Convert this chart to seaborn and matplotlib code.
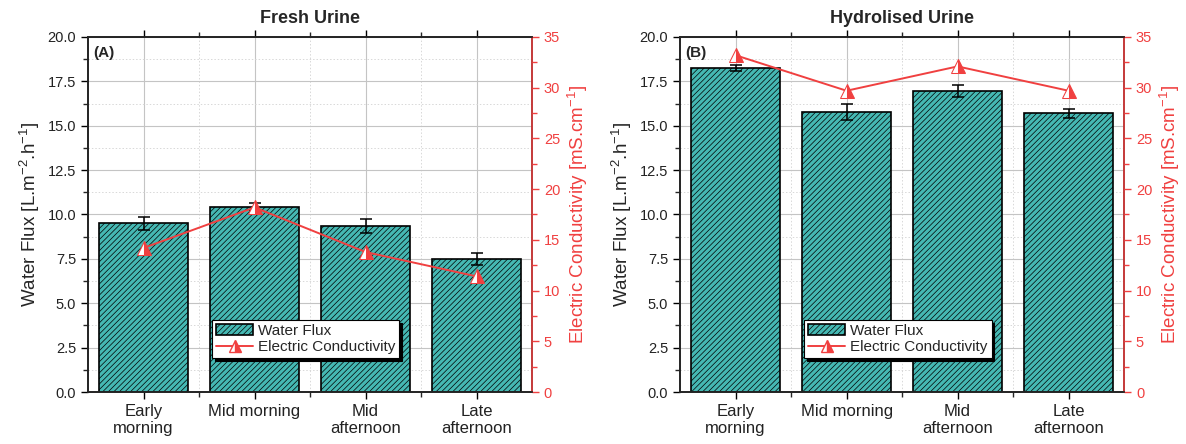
import numpy as np
import matplotlib
matplotlib.use("Agg")
import matplotlib.pyplot as plt
import seaborn as sns
import pandas as pd
from matplotlib.patches import Patch
from matplotlib.lines import Line2D
from matplotlib.ticker import MultipleLocator, FixedLocator

categories = ["Early\nmorning", "Mid morning", "Mid\nafternoon", "Late\nafternoon"]

fresh_flux = [9.5, 10.45, 9.35, 7.5]
fresh_flux_err = [0.35, 0.2, 0.4, 0.35]
fresh_ec = [14.2, 18.2, 13.8, 11.4]

hydro_flux = [18.25, 15.75, 16.95, 15.7]
hydro_flux_err = [0.15, 0.45, 0.35, 0.25]
hydro_ec = [33.2, 29.7, 32.1, 29.7]

titles = ["Fresh Urine", "Hydrolised Urine"]
panel_labels = ["(A)", "(B)"]

sns.set_theme(style="white")
plt.rcParams["font.family"] = ["Liberation Sans", "DejaVu Sans"]
plt.rcParams["mathtext.fontset"] = "custom"
plt.rcParams["mathtext.rm"] = "Liberation Sans"
plt.rcParams["mathtext.it"] = "Liberation Sans:italic"
plt.rcParams["mathtext.bf"] = "Liberation Sans:bold"
plt.rcParams["hatch.linewidth"] = 0.5
plt.rcParams["hatch.color"] = "#123535"

RED = "#f04040"
TEAL = "#45b8b3"
HATCH = "//////"

fig = plt.figure(figsize=(11.86, 4.44), dpi=100)
axes = [fig.add_axes([0.0742, 0.1171, 0.3744, 0.7996]),
        fig.add_axes([0.5734, 0.1171, 0.3744, 0.7996])]

datasets = [(fresh_flux, fresh_flux_err, fresh_ec), (hydro_flux, hydro_flux_err, hydro_ec)]

for ax, (flux, err, ec), title, plab in zip(axes, datasets, titles, panel_labels):
    df = pd.DataFrame({"cat": categories, "flux": flux})
    sns.barplot(data=df, x="cat", y="flux", ax=ax, color=TEAL, width=0.8,
                edgecolor="black", linewidth=1.2, hatch=HATCH, saturation=1, zorder=3)
    x = np.arange(len(categories))
    ax.errorbar(x, flux, yerr=err, fmt="none", ecolor="black", elinewidth=1.1,
                capsize=4, capthick=1.1, zorder=4)
    ax.set_xlim(-0.5, 3.5)
    ax.set_ylim(0, 20)
    ax.set_yticks(np.arange(0, 20.01, 2.5))
    ax.set_yticklabels([f"{v:.1f}" for v in np.arange(0, 20.01, 2.5)])
    ax.yaxis.set_minor_locator(MultipleLocator(1.25))
    ax.xaxis.set_minor_locator(FixedLocator([0.5, 1.5, 2.5]))
    ax.grid(True, which="major", color="#c4c4c4", lw=0.8, zorder=0)
    ax.grid(True, which="minor", color="#d8d8d8", lw=0.7, ls=(0, (1.5, 2)), zorder=0)
    ax.set_axisbelow(True)
    ax.tick_params(axis="both", which="major", direction="out", length=5, width=1,
                   labelsize=10.5, colors="black", labelcolor="#222222")
    ax.tick_params(axis="both", which="minor", direction="out", length=3.5, width=1)
    ax.tick_params(axis="x", which="both", top=True, bottom=True)
    ax.tick_params(axis="y", which="both", left=True)
    ax.tick_params(axis="x", labelsize=12)
    ax.set_xlabel("")
    ax.set_ylabel("Water Flux [L.m$^{-2}$.h$^{-1}$]", fontsize=13.5)
    for s in ax.spines.values():
        s.set_color("black")
        s.set_linewidth(1.1)
    ax.set_title(title, fontsize=13, fontweight="bold", pad=10)
    ax.text(0.012, 0.975, plab, transform=ax.transAxes, fontsize=11,
            fontweight="bold", va="top", ha="left", zorder=6)

    ax2 = ax.twinx()
    sns.lineplot(x=x, y=ec, ax=ax2, color=RED, lw=1.4, marker="^", markersize=10,
                 markerfacecolor=RED, markeredgecolor=RED, zorder=5)
    for ln in ax2.lines:
        ln.set_fillstyle("right")
        ln.set_markerfacecoloralt("white")
    ax2.set_ylim(0, 35)
    ax2.yaxis.set_major_locator(MultipleLocator(5))
    ax2.yaxis.set_minor_locator(MultipleLocator(2.5))
    ax2.tick_params(axis="y", which="major", direction="out", length=5, width=1,
                    colors=RED, labelsize=10.5)
    ax2.tick_params(axis="y", which="minor", direction="out", length=3.5, width=1, colors=RED)
    ax2.set_ylabel("Electric Conductivity [mS.cm$^{-1}$]", fontsize=13.5, color=RED)
    ax2.spines["right"].set_color(RED)
    ax2.spines["right"].set_linewidth(1.1)
    ax2.grid(False)

    handles = [Patch(facecolor=TEAL, edgecolor="black", hatch=HATCH, lw=1.2),
               Line2D([0], [0], color=RED, lw=1.4, marker="^", markersize=9,
                      markerfacecolor=RED, markeredgecolor=RED, fillstyle="right",
                      markerfacecoloralt="white")]
    leg = ax2.legend(handles, ["Water Flux", "Electric Conductivity"], loc="lower left",
                     bbox_to_anchor=(0.263, 0.075), fontsize=11, frameon=True,
                     fancybox=False, edgecolor="black", framealpha=1,
                     shadow={"color": "black", "alpha": 1}, borderpad=0.25,
                     handlelength=2.4, handletextpad=0.35, labelspacing=0.12)
    leg.get_frame().set_linewidth(0.8)
    leg.set_zorder(10)

fig.savefig("out.png", dpi=100)
